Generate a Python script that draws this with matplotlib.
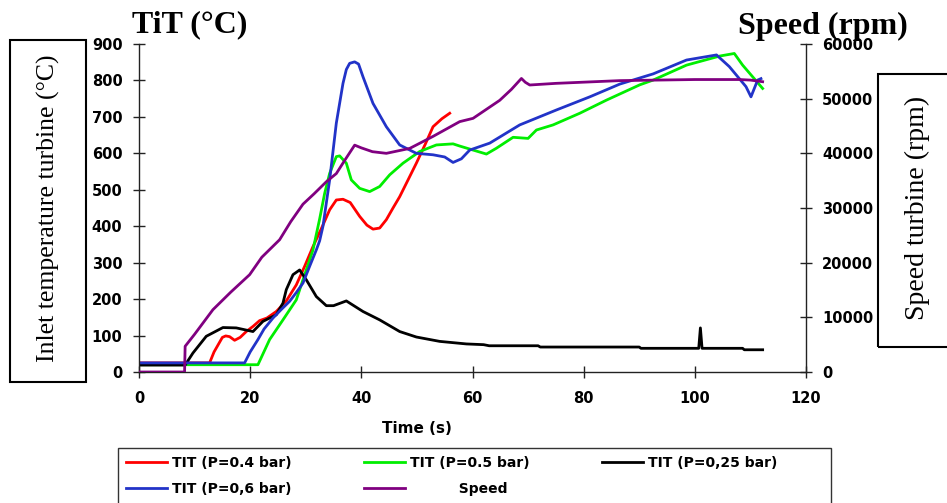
import matplotlib
matplotlib.use("Agg")
import matplotlib.pyplot as plt
from matplotlib.patches import Rectangle

# ---------------- data ----------------
t_red = [0, 12.7, 13.5, 15.0, 15.6, 16.3, 17.2, 18.2, 19.3, 20.5, 21.7, 23.0, 24.7, 26.5,
         28.3, 29.8, 31.3, 33.0, 34.3, 35.5, 36.7, 38.0, 39.7, 41.0, 42.1, 43.3, 44.5,
         45.7, 46.9, 48.5, 49.9, 51.5, 52.9, 54.5, 55.9]
T_red = [25, 25, 55, 95, 99, 97, 87, 95, 111, 125, 141, 148, 166, 195,
         239, 290, 344, 400, 445, 472, 474, 465, 427, 403, 392, 395, 418,
         450, 481, 530, 573, 625, 673, 695, 710]

t_green = [0, 21.4, 23.5, 25.9, 28.3, 29.5, 31.3, 32.5, 33.4, 34.3, 35.5, 36.1, 37.3,
           38.2, 39.7, 41.5, 43.3, 45.1, 47.5, 50.5, 53.5, 56.5, 57.7, 60.1, 62.5, 64.3,
           67.3, 70.0, 71.5, 74.5, 79.3, 84.1, 90.1, 92.5, 98.5, 104.5, 107.1, 108.6,
           110.4, 112.2]
T_green = [20, 20, 89, 143, 198, 253, 335, 420, 490, 545, 591, 593, 573,
           527, 504, 495, 509, 541, 573, 605, 623, 626, 620, 609, 598, 614,
           644, 641, 664, 678, 710, 746, 788, 801, 842, 867, 874, 842,
           810, 778]

t_black = [0, 8.3, 9.7, 12.1, 15.1, 17.5, 20.5, 22.3, 24.7, 25.9, 26.5, 27.7, 28.9,
           30.1, 31.9, 33.7, 35.0, 37.3, 40.3, 43.3, 46.9, 49.9, 54.1, 58.9, 62.0,
           63.0, 71.8, 72.2, 90.0, 90.3, 100.7, 101.0, 101.3, 108.6, 108.9, 112.2]
T_black = [19, 19, 52, 98, 122, 121, 111, 139, 157, 189, 226, 267, 280,
           253, 207, 182, 182, 195, 166, 143, 111, 96, 84, 77, 75,
           72, 72, 68.5, 68.5, 65, 65, 121, 65, 65, 61, 61]

t_blue = [0, 19.0, 20.0, 21.4, 22.5, 24.1, 25.5, 27.1, 28.3, 29.5, 30.7, 31.9, 32.5,
          33.1, 34.3, 35.5, 36.7, 37.3, 37.9, 38.8, 39.5, 40.3, 42.1, 44.5, 46.9,
          49.9, 52.9, 55.0, 56.5, 58.0, 59.5, 63.1, 68.5, 75.1, 81.1, 86.5, 92.5,
          98.5, 103.9, 106.2, 109.2, 110.1, 111.3, 111.9]
T_blue = [25, 25, 55, 89, 118, 148, 170, 194, 218, 244, 290, 335, 360,
          400, 527, 683, 792, 830, 847, 851, 845, 810, 737, 673, 623,
          600, 596, 590, 575, 585, 609, 628, 678, 719, 755, 790, 818,
          856, 870, 838, 783, 755, 801, 805]

t_speed = [0, 8.2, 8.3, 10.0, 13.3, 16.5, 19.9, 22.1, 25.3, 27.3, 29.5, 31.5, 33.7,
           35.5, 37.0, 38.8, 40.0, 42.0, 44.5, 48.7, 52.9, 57.7, 60.1, 64.9, 67.0,
           68.8, 69.5, 70.3, 75.0, 86.5, 100.0, 108.0, 110.0, 112.2]
speed = [0, 0, 4700, 6900, 11400, 14600, 17800, 21000, 24200, 27500, 30700, 32600, 34800,
         36300, 38700, 41500, 41000, 40300, 40000, 40900, 43100, 45800, 46400, 49700, 51700,
         53700, 53000, 52500, 52800, 53300, 53500, 53500, 53400, 53100]

x_ticks = [0, 20, 40, 60, 80, 100, 120]
y_ticks = [0, 100, 200, 300, 400, 500, 600, 700, 800, 900]
y2_ticks = [0, 10000, 20000, 30000, 40000, 50000, 60000]

labels = ["TIT (P=0.4 bar)", "TIT (P=0.5 bar)", "TIT (P=0,25 bar)", "TIT (P=0,6 bar)", "Speed"]

# ---------------- figure ----------------
W, H = 947, 503
fig = plt.figure(figsize=(W / 100, H / 100), dpi=100)
ax = fig.add_axes([139 / W, 1 - 372 / H, (806 - 139) / W, (372 - 44) / H])
ax2 = ax.twinx()

lw = 2.0
l_red, = ax.plot(t_red, T_red, color="#ff0000", lw=lw)
l_green, = ax.plot(t_green, T_green, color="#00ee00", lw=lw)
l_black, = ax.plot(t_black, T_black, color="#000000", lw=lw)
l_blue, = ax.plot(t_blue, T_blue, color="#2233c8", lw=lw)
l_speed, = ax2.plot(t_speed, speed, color="#800080", lw=lw)

ax.set_xlim(0, 120)
ax.set_ylim(0, 900)
ax2.set_ylim(0, 60000)
ax.set_xticks(x_ticks)
ax.set_yticks(y_ticks)
ax2.set_yticks(y2_ticks)

tickfont = dict(family="DejaVu Sans", weight="bold", size=10.5)
ax.set_xticklabels([str(v) for v in x_ticks], fontdict=tickfont)
ax.set_yticklabels([str(v) for v in y_ticks], fontdict=tickfont)
ax2.set_yticklabels([str(v) for v in y2_ticks], fontdict=tickfont)

for a in (ax, ax2):
    a.spines["top"].set_visible(False)
    for s in a.spines.values():
        s.set_linewidth(1.0)
        s.set_color("#222222")
ax2.spines["left"].set_visible(False)
ax2.spines["bottom"].set_visible(False)
ax.spines["right"].set_visible(False)

ax.tick_params(axis="y", direction="inout", length=9, width=1, pad=7.4, colors="#222222", labelcolor="black")
ax.tick_params(axis="x", direction="inout", length=8, width=1, pad=10, colors="#222222", labelcolor="black")
ax2.tick_params(axis="y", direction="inout", length=9, width=1, pad=7, colors="#222222", labelcolor="black")

ax.set_xlabel("Time (s)", fontdict=dict(family="DejaVu Sans", weight="bold", size=11))
ax.xaxis.set_label_coords(0.417, -0.15)

# titles
serif = "Liberation Serif"
fig.text(189.5 / W, 1 - 25 / H, "TiT (°C)", ha="center", va="center",
         family=serif, weight="bold", size=23)
fig.text(823 / W, 1 - 26 / H, "Speed (rpm)", ha="center", va="center",
         family=serif, weight="bold", size=23)

# boxed axis labels
fig.add_artist(Rectangle((10 / W, 1 - 382 / H), 76 / W, 342 / H, transform=fig.transFigure,
                         fill=False, lw=1.5, ec="black"))
fig.text(48 / W, 1 - 208 / H, "Inlet temperature turbine (°C)", rotation=90,
         ha="center", va="center", family=serif, size=18.5)
fig.add_artist(Rectangle((878 / W, 1 - 347 / H), 120 / W, 273 / H, transform=fig.transFigure,
                         fill=False, lw=1.5, ec="black"))
fig.text(917 / W, 1 - 208 / H, "Speed turbine (rpm)", rotation=90,
         ha="center", va="center", family=serif, size=20)

# legend (column-major order gives rows: red, green, black / blue, speed)
handles = [l_red, l_blue, l_green, l_speed, l_black]
leg_labels = [labels[0], labels[3], labels[1], " " * 10 + labels[4], labels[2]]
leg = fig.legend(handles, leg_labels, ncol=3, loc="upper left",
                 bbox_to_anchor=(118 / W, 1 - 448 / H), borderaxespad=0,
                 prop=dict(family="DejaVu Sans", weight="bold", size=10),
                 handlelength=2.95, handletextpad=0.36, columnspacing=5.2,
                 labelspacing=0.85, borderpad=0.6, frameon=False)
# legend frame (runs past the bottom edge, as in the reference)
fig.add_artist(Rectangle((118 / W, 1 - 520 / H), (831 - 118) / W, 72 / H,
                         transform=fig.transFigure, fill=False, lw=1.0, ec="#333333"))

fig.savefig("out.png", dpi=100)
